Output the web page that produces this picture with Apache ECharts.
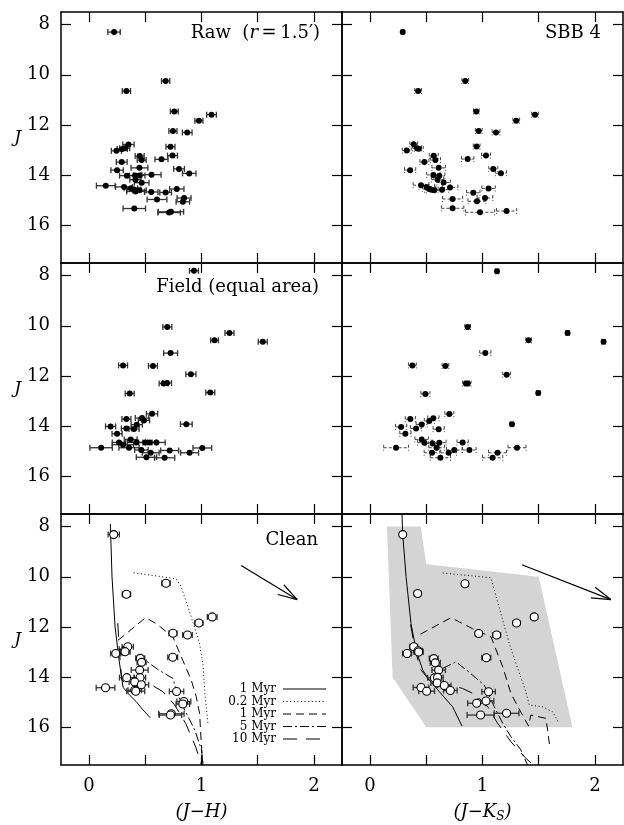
<!DOCTYPE html>
<html><head><meta charset="utf-8">
<script src="https://cdn.jsdelivr.net/npm/echarts@6/dist/echarts.min.js"></script>
<style>html,body{margin:0;padding:0;background:#fff}#c{width:624px;height:825px}</style>
</head><body><div id="c"></div>
<script>
// ---- tick definitions ----
const xTicks = [0, 0.5, 1, 1.5, 2];
const xTickLabels = [0, 1, 2];
const yTicks = [8, 10, 12, 14, 16];

// ---- data: [colour, J, colour error] ----
const rawJH = [
[0.222,8.30,0.055],[0.681,10.25,0.037],[0.332,10.65,0.037],[0.758,11.46,0.035],[1.089,11.59,0.043],
[0.977,11.83,0.036],[0.746,12.24,0.036],[0.873,12.30,0.043],[0.350,12.78,0.05],[0.724,12.87,0.04],
[0.317,12.93,0.045],[0.295,12.96,0.045],[0.243,13.03,0.045],[0.450,13.24,0.04],[0.742,13.22,0.044],
[0.468,13.40,0.04],[0.644,13.37,0.058],[0.290,13.48,0.048],[0.800,13.75,0.048],[0.249,13.80,0.055],
[0.891,13.93,0.06],[0.448,13.71,0.075],[0.336,14.02,0.065],[0.408,14.01,0.05],[0.447,14.01,0.05],
[0.555,13.98,0.085],[0.412,14.18,0.05],[0.468,14.30,0.065],[0.148,14.42,0.083],[0.311,14.47,0.075],
[0.372,14.52,0.06],[0.400,14.57,0.06],[0.414,14.65,0.08],[0.448,14.60,0.06],[0.553,14.67,0.06],
[0.681,14.69,0.052],[0.780,14.55,0.064],[0.604,14.97,0.088],[0.845,14.91,0.062],[0.834,15.06,0.06],
[0.402,15.33,0.10],[0.728,15.46,0.113],[0.712,15.49,0.10]
];
const rawJK = [
[0.290,8.30,0.012],[0.847,10.25,0.03],[0.427,10.65,0.03],[0.945,11.46,0.025],[1.467,11.59,0.03],
[1.300,11.83,0.03],[0.966,12.24,0.03],[1.120,12.30,0.035],[0.388,12.77,0.035],[0.948,12.86,0.03],
[0.418,12.93,0.04],[0.433,12.95,0.04],[0.326,13.02,0.04],[0.566,13.23,0.04],[1.031,13.22,0.04],
[0.581,13.40,0.045],[0.868,13.36,0.055],[0.483,13.48,0.04],[1.096,13.75,0.04],[0.356,13.80,0.05],
[1.164,13.92,0.05],[0.610,13.71,0.06],[0.563,13.99,0.06],[0.616,14.02,0.05],[0.711,14.49,0.07],
[0.600,14.17,0.055],[0.654,14.29,0.06],[0.453,14.40,0.07],[0.504,14.47,0.07],[0.525,14.55,0.06],
[0.545,14.58,0.06],[0.570,14.60,0.07],[0.640,14.58,0.06],[0.918,14.70,0.06],[1.054,14.53,0.06],
[0.734,14.95,0.09],[1.022,14.91,0.07],[0.951,15.04,0.08],[0.734,15.32,0.10],[1.214,15.43,0.09],
[0.978,15.48,0.13]
];
const fieldJH = [
[0.933,7.81,0.04],[0.696,10.05,0.04],[1.249,10.29,0.04],[1.116,10.58,0.035],[1.545,10.64,0.04],
[0.725,11.09,0.062],[0.302,11.58,0.04],[0.568,11.60,0.04],[0.906,11.93,0.045],[0.663,12.30,0.04],
[0.693,12.28,0.04],[1.078,12.66,0.04],[0.361,12.70,0.04],[0.560,13.51,0.05],[0.471,13.68,0.06],
[0.488,13.77,0.05],[0.332,13.72,0.04],[0.424,13.94,0.05],[0.191,14.01,0.045],[0.332,14.09,0.045],
[0.400,14.11,0.045],[0.249,14.30,0.045],[0.865,13.92,0.052],[0.370,14.53,0.057],[0.266,14.65,0.06],
[0.302,14.74,0.095],[0.421,14.65,0.08],[0.500,14.65,0.06],[0.539,14.65,0.06],[0.599,14.65,0.078],
[0.107,14.86,0.10],[0.355,14.86,0.09],[0.465,14.95,0.06],[0.548,15.06,0.075],[0.717,14.97,0.08],
[0.894,15.06,0.08],[1.007,14.87,0.083],[0.510,15.24,0.09],[0.672,15.26,0.09]
];
const fieldJK = [
[1.129,7.83,0.015],[0.868,10.05,0.025],[1.757,10.29,0.015],[1.410,10.58,0.025],[2.077,10.64,0.015],
[1.025,11.09,0.05],[0.376,11.58,0.035],[0.670,11.60,0.03],[1.215,11.95,0.035],[0.853,12.30,0.03],
[0.868,12.30,0.03],[1.496,12.68,0.015],[0.492,12.72,0.04],[0.705,13.52,0.04],[0.563,13.69,0.05],
[0.527,13.79,0.045],[0.358,13.72,0.045],[0.459,13.93,0.05],[0.276,14.03,0.05],[0.409,14.09,0.05],
[0.610,14.12,0.05],[0.314,14.30,0.05],[1.262,13.92,0.015],[0.459,14.53,0.06],[0.483,14.66,0.06],
[0.557,14.69,0.06],[0.616,14.66,0.06],[0.823,14.65,0.05],[0.231,14.86,0.11],[0.592,14.86,0.07],
[0.749,14.95,0.07],[0.883,14.95,0.06],[0.551,15.06,0.07],[0.699,15.06,0.07],[1.134,15.06,0.08],
[1.307,14.86,0.08],[0.625,15.26,0.09],[1.090,15.26,0.09]
];
const cleanJH = [
[0.219,8.32,0.05],[0.684,10.26,0.037],[0.332,10.70,0.037],[1.095,11.60,0.043],[0.977,11.84,0.036],
[0.746,12.25,0.036],[0.875,12.32,0.043],[0.344,12.79,0.05],[0.311,12.97,0.045],[0.320,12.99,0.045],
[0.237,13.06,0.045],[0.744,13.21,0.044],[0.455,13.25,0.04],[0.467,13.41,0.04],[0.450,13.72,0.075],
[0.335,14.02,0.065],[0.453,14.02,0.05],[0.406,14.19,0.05],[0.465,14.30,0.065],[0.146,14.42,0.083],
[0.406,14.52,0.06],[0.415,14.56,0.08],[0.778,14.57,0.064],[0.843,14.97,0.062],[0.834,15.07,0.06],
[0.732,15.46,0.113],[0.724,15.51,0.10]
];
const cleanJK = [
[0.290,8.32,0.02],[0.844,10.28,0.03],[0.423,10.67,0.03],[1.460,11.60,0.03],[1.303,11.84,0.03],
[0.966,12.26,0.03],[1.126,12.32,0.035],[0.388,12.79,0.035],[0.427,12.95,0.04],[0.432,13.00,0.04],
[0.329,13.06,0.04],[1.034,13.23,0.04],[0.566,13.26,0.04],[0.580,13.43,0.045],[0.610,13.72,0.06],
[0.572,14.03,0.06],[0.600,14.01,0.05],[0.596,14.23,0.055],[0.660,14.33,0.06],[0.453,14.41,0.07],
[0.503,14.56,0.07],[0.714,14.53,0.06],[1.054,14.58,0.06],[1.031,14.95,0.07],[0.948,15.04,0.08],
[1.214,15.44,0.11],[0.983,15.51,0.12]
];

// ---- isochrones [colour, J] ----
const isoSolid1JH = [[0.189,7.9],[0.204,10.0],[0.231,12.0],[0.266,13.3],[0.302,14.4],[0.346,14.65],[0.42,14.98],[0.48,15.31],[0.545,15.62]];
const iso02JH = [[0.397,9.84],[0.776,10.08],[0.82,10.41],[0.909,11.60],[0.983,12.66],[1.012,13.46],[1.033,14.78],[1.04,15.05],[1.057,15.84]];
const isoDash1JH = [[0.258,12.53],[0.503,11.63],[0.598,11.87],[0.746,12.40],[0.82,13.19],[0.909,14.12],[0.953,14.78],[0.983,15.44],[0.998,16.64],[1.012,17.5]];
const iso5JH = [[0.42,13.19],[0.50,13.33],[0.62,13.72],[0.746,14.05],[0.78,14.6],[0.85,15.31],[0.94,16.1],[1.0,16.9],[1.015,17.5]];
const iso10JH = [[0.255,11.85],[0.27,13.0],[0.29,14.1],[0.33,14.3],[0.51,14.19],[0.657,14.58],[0.76,15.1],[0.86,15.85],[0.95,16.8],[1.0,17.5]];
const isoSolid1JK = [[0.284,7.5],[0.29,8.3],[0.32,10.0],[0.364,11.87],[0.41,12.93],[0.468,13.72],[0.527,14.12],[0.616,14.58],[0.734,15.18],[0.818,15.95]];
const iso02JK = [[0.646,9.85],[1.075,10.04],[1.09,10.3],[1.18,11.73],[1.238,12.66],[1.298,13.46],[1.38,14.5],[1.416,15.11],[1.534,15.18],[1.623,15.38],[1.683,15.84]];
const isoDash1JK = [[0.447,12.29],[0.72,11.63],[0.912,12.07],[1.076,12.40],[1.18,13.59],[1.253,14.65],[1.33,15.3],[1.41,15.95],[1.43,15.51],[1.564,15.64],[1.579,16.1],[1.60,16.83]];
const iso5JK = [[0.646,13.65],[0.764,13.39],[0.88,13.8],[1.016,14.32],[1.105,15.18],[1.18,15.84],[1.253,16.37],[1.342,16.9],[1.40,17.5]];
const iso10JK = [[0.36,11.9],[0.40,12.9],[0.45,13.7],[0.55,14.25],[0.70,14.3],[0.823,14.45],[0.942,14.71],[1.05,15.2],[1.134,15.84],[1.253,16.57],[1.372,17.17],[1.45,17.5]];
const isoNames = ['1 Myr','0.2 Myr','1 Myr','5 Myr','10 Myr'];

// reddening vectors [x0, J0, x1, J1]
const arrowJH = [[1.353,9.55,1.851,10.91]];
const arrowJK = [[1.351,9.52,2.142,10.91]];
// selection region in (J-Ks) clean panel
const regionJK = [[0.15,8.0],[0.45,8.0],[0.5,9.5],[1.5,10.0],[1.8,16.0],[0.5,16.0],[0.2,14.0]];

// ---- chart ----
const FONT = 'DejaVu Serif';
const chart = echarts.init(document.getElementById('c'), null, {renderer:'canvas'});
const lefts = [61, 342], tops = [12, 263, 514], W = 281, H = 251;
const grids = [], xAxes = [], yAxes = [], series = [];
const dashes = ['solid', [1, 2.6], [8, 5], [9, 3, 2, 3], [14, 9]];

for (let r = 0; r < 3; r++) for (let c = 0; c < 2; c++) {
  const gi = r * 2 + c;
  grids.push({left: lefts[c], top: tops[r], width: W, height: H, containLabel: false, outerBoundsMode: 'none'});
  ['bottom', 'top'].forEach(pos => {
    const lab = (r === 2 && pos === 'bottom');
    xAxes.push({
      type: 'value', gridIndex: gi, position: pos, min: -0.25, max: 2.25,
      axisLine: {show: true, onZero: false, lineStyle: {color: '#000', width: 1.5}},
      axisTick: {show: true, inside: true, length: 10, customValues: xTicks, lineStyle: {color: '#000', width: 1.2}},
      axisLabel: {show: lab, customValues: xTickLabels, margin: 12, color: '#000', fontFamily: FONT, fontSize: 18},
      splitLine: {show: false},
      name: lab ? (c === 0 ? '{m|(J\u2212H)}' : '{m|(J\u2212K}{s|S}{m|)}') : '',
      nameLocation: 'middle', nameGap: 36,
      nameTextStyle: {color: '#000', fontFamily: FONT, fontSize: 18, fontStyle: 'italic',
        rich: {
          m: {fontFamily: FONT, fontSize: 18, fontStyle: 'italic', color: '#000', lineHeight: 22, verticalAlign: 'middle'},
          s: {fontFamily: FONT, fontSize: 12, fontStyle: 'italic', color: '#000', lineHeight: 12, verticalAlign: 'bottom'}
        }}
    });
  });
  ['left', 'right'].forEach(pos => {
    const lab = (c === 0 && pos === 'left');
    yAxes.push({
      type: 'value', gridIndex: gi, position: pos, min: 7.5, max: 17.5, inverse: true,
      axisLine: {show: true, onZero: false, lineStyle: {color: '#000', width: 1.5}},
      axisTick: {show: true, inside: true, length: 10, customValues: yTicks, lineStyle: {color: '#000', width: 1.2}},
      axisLabel: {show: lab, customValues: yTicks, margin: 11, color: '#000', fontFamily: FONT, fontSize: 18},
      splitLine: {show: false},
      name: lab ? 'J' : '', nameLocation: 'middle', nameGap: 40, nameRotate: 0,
      nameTextStyle: {color: '#000', fontFamily: FONT, fontSize: 17, fontStyle: 'italic', padding: [14, 0, 0, 0]}
    });
  });
}

function errBars(gi, data, dashed) {
  return {
    type: 'custom', xAxisIndex: gi * 2, yAxisIndex: gi * 2, data: data, z: 3, silent: true,
    encode: {x: 0, y: 1},
    renderItem: function (params, api) {
      const x = api.value(0), y = api.value(1), e = api.value(2);
      const a = api.coord([x - e, y]), b = api.coord([x + e, y]);
      const st = {stroke: dashed ? '#444' : '#333', lineWidth: dashed ? 1 : 1.3, lineDash: dashed ? [3, 2] : null};
      return {type: 'group', children: [
        {type: 'line', shape: {x1: a[0], y1: a[1], x2: b[0], y2: b[1]}, style: st},
        {type: 'line', shape: {x1: a[0], y1: a[1] - 3, x2: a[0], y2: a[1] + 3}, style: st},
        {type: 'line', shape: {x1: b[0], y1: b[1] - 3, x2: b[0], y2: b[1] + 3}, style: st}
      ]};
    }
  };
}
function dots(gi, data, open) {
  return {
    type: 'scatter', xAxisIndex: gi * 2, yAxisIndex: gi * 2, z: 4, silent: true,
    data: data.map(d => [d[0], d[1]]), symbol: 'circle', symbolSize: open ? 8 : 6,
    itemStyle: open ? {color: '#fff', borderColor: '#000', borderWidth: 1.1, opacity: 1} : {color: '#000', opacity: 1}
  };
}
function iso(gi, data, k) {
  return {
    type: 'line', xAxisIndex: gi * 2, yAxisIndex: gi * 2, data: data, showSymbol: false, symbol: 'none',
    clip: true, z: 2, silent: true, name: isoNames[k],
    lineStyle: {color: '#000', width: 1, type: dashes[k]}
  };
}
function arrow(gi, data) {
  return {
    type: 'custom', xAxisIndex: gi * 2, yAxisIndex: gi * 2, data: data, z: 5, silent: true,
    encode: {x: [0, 2], y: [1, 3]},
    renderItem: function (params, api) {
      const p0 = api.coord([api.value(0), api.value(1)]), p1 = api.coord([api.value(2), api.value(3)]);
      const ang = Math.atan2(p1[1] - p0[1], p1[0] - p0[0]) + Math.PI;
      const L = 20, s = 0.29;
      const h1 = [p1[0] + L * Math.cos(ang - s), p1[1] + L * Math.sin(ang - s)];
      const h2 = [p1[0] + L * Math.cos(ang + s), p1[1] + L * Math.sin(ang + s)];
      const st = {stroke: '#000', lineWidth: 1.2};
      return {type: 'group', children: [
        {type: 'line', shape: {x1: p0[0], y1: p0[1], x2: p1[0], y2: p1[1]}, style: st},
        {type: 'line', shape: {x1: p1[0], y1: p1[1], x2: h1[0], y2: h1[1]}, style: st},
        {type: 'line', shape: {x1: p1[0], y1: p1[1], x2: h2[0], y2: h2[1]}, style: st}
      ]};
    }
  };
}

// region polygon (clean J-Ks)
series.push({
  type: 'custom', xAxisIndex: 10, yAxisIndex: 10, data: regionJK, z: 1, silent: true,
  encode: {x: 0, y: 1},
  renderItem: function (params, api) {
    if (params.dataIndex !== 0) return null;
    const pts = regionJK.map(p => api.coord(p));
    return {type: 'polygon', shape: {points: pts}, style: {fill: '#d4d4d4', stroke: null}};
  }
});

series.push(errBars(0, rawJH, false), dots(0, rawJH, false));
series.push(errBars(1, rawJK, true), dots(1, rawJK, false));
series.push(errBars(2, fieldJH, false), dots(2, fieldJH, false));
series.push(errBars(3, fieldJK, true), dots(3, fieldJK, false));
[isoSolid1JH, iso02JH, isoDash1JH, iso5JH, iso10JH].forEach((d, k) => series.push(iso(4, d, k)));
[isoSolid1JK, iso02JK, isoDash1JK, iso5JK, iso10JK].forEach((d, k) => series.push(iso(5, d, k)));
series.push(errBars(4, cleanJH, false), dots(4, cleanJH, true));
series.push(errBars(5, cleanJK, false), dots(5, cleanJK, true));
series.push(arrow(4, arrowJH), arrow(5, arrowJK));

const graphics = [];
function label(text, x, y, rich) {
  graphics.push({type: 'text', x: x, y: y, silent: true, z: 10,
    style: {text: text, align: 'right', verticalAlign: 'middle', fill: '#000', fontFamily: FONT, fontSize: 18, rich: rich || {}}});
}
label('Raw  ({i|r}\u2009=\u20091.5\u2032)', 320, 33, {i: {fontFamily: FONT, fontSize: 18, fontStyle: 'italic', fill: '#000'}});
label('SBB 4', 601, 33);
label('Field (equal area)', 319, 287);
label('Clean', 318, 540);
isoNames.forEach((n, k) => {
  const y = 689 + k * 12.5;
  graphics.push({type: 'text', x: 276, y: y, silent: true, z: 10,
    style: {text: n, align: 'right', verticalAlign: 'middle', fill: '#000', fontFamily: FONT, fontSize: 12}});
  const d = dashes[k];
  graphics.push({type: 'line', silent: true, z: 10, shape: {x1: 283, y1: y, x2: 326, y2: y},
    style: {stroke: '#000', lineWidth: 1, lineDash: d === 'solid' ? null : d}});
});

chart.setOption({
  animation: false,
  backgroundColor: '#fff',
  grid: grids, xAxis: xAxes, yAxis: yAxes, series: series, graphic: graphics
});
</script></body></html>
